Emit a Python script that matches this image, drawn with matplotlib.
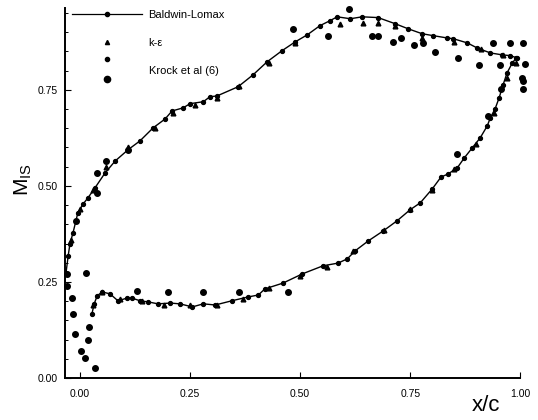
import matplotlib
matplotlib.use("Agg")
import matplotlib.pyplot as plt
from matplotlib.lines import Line2D
from matplotlib.legend_handler import HandlerBase
from matplotlib.ticker import MultipleLocator, FixedLocator

plt.rcParams['font.family'] = ['Liberation Sans', 'DejaVu Sans']

# Baldwin-Lomax (line) - suction surface
bl_up_x = [-0.032, -0.027, -0.023, -0.016, -0.005, 0.007, 0.018, 0.034, 0.057, 0.080,
           0.109, 0.136, 0.166, 0.193, 0.209, 0.234, 0.250, 0.280, 0.295, 0.311,
           0.359, 0.393, 0.425, 0.459, 0.489, 0.516, 0.545, 0.568, 0.584, 0.614,
           0.641, 0.677, 0.716, 0.745, 0.777, 0.802, 0.834, 0.848, 0.880, 0.902,
           0.932, 0.959, 0.977, 0.993]
bl_up_y = [0.273, 0.318, 0.349, 0.378, 0.430, 0.453, 0.469, 0.495, 0.534, 0.565,
           0.594, 0.617, 0.651, 0.674, 0.695, 0.703, 0.714, 0.719, 0.732, 0.734,
           0.758, 0.789, 0.823, 0.852, 0.875, 0.893, 0.917, 0.930, 0.940, 0.935,
           0.940, 0.938, 0.922, 0.909, 0.896, 0.891, 0.885, 0.883, 0.872, 0.859,
           0.846, 0.841, 0.839, 0.833]
# Baldwin-Lomax - pressure surface
bl_lo_x = [0.027, 0.032, 0.039, 0.050, 0.068, 0.086, 0.107, 0.118, 0.136, 0.155,
           0.177, 0.205, 0.227, 0.255, 0.280, 0.307, 0.345, 0.382, 0.405, 0.420,
           0.461, 0.505, 0.552, 0.586, 0.607, 0.625, 0.655, 0.689, 0.720, 0.750,
           0.773, 0.800, 0.820, 0.836, 0.857, 0.873, 0.891, 0.909, 0.925, 0.932,
           0.943, 0.952, 0.961, 0.970, 0.982, 0.991]
bl_lo_y = [0.167, 0.193, 0.214, 0.224, 0.219, 0.201, 0.208, 0.208, 0.201, 0.198,
           0.193, 0.195, 0.193, 0.185, 0.193, 0.190, 0.201, 0.211, 0.216, 0.232,
           0.247, 0.271, 0.292, 0.299, 0.310, 0.331, 0.357, 0.383, 0.409, 0.438,
           0.456, 0.492, 0.523, 0.531, 0.547, 0.573, 0.599, 0.625, 0.656, 0.677,
           0.701, 0.729, 0.763, 0.794, 0.820, 0.833]

# k-epsilon
ke_x = [-0.020, 0.000, 0.030, 0.060, 0.110, 0.170, 0.210, 0.260, 0.310, 0.360,
        0.430, 0.489, 0.591, 0.643, 0.677, 0.716, 0.777, 0.850, 0.910, 0.960, 0.990,
        0.030, 0.050, 0.090, 0.140, 0.190, 0.250, 0.310, 0.370, 0.430, 0.500,
        0.560, 0.620, 0.690, 0.750, 0.800, 0.850, 0.900, 0.940, 0.970]
ke_y = [0.360, 0.440, 0.490, 0.550, 0.600, 0.650, 0.690, 0.710, 0.730, 0.760,
        0.820, 0.872, 0.922, 0.924, 0.924, 0.917, 0.885, 0.875, 0.855, 0.840, 0.820,
        0.190, 0.225, 0.205, 0.200, 0.190, 0.190, 0.190, 0.205, 0.235, 0.265,
        0.290, 0.330, 0.385, 0.440, 0.490, 0.545, 0.610, 0.690, 0.780]

# Krock et al (6) - experiment
ex_x = [-0.030, -0.030, -0.018, -0.016, -0.011, 0.002, 0.011, 0.018, 0.020, 0.034,
        0.014, 0.130, 0.200, 0.280, 0.361, 0.473, 0.857, 0.927, 0.957,
        -0.009, 0.039, 0.039, 0.059, 0.109, 0.484, 0.564, 0.611, 0.664, 0.677,
        0.711, 0.730, 0.759, 0.780, 0.807, 0.859, 0.907, 0.939, 0.955, 0.977,
        1.007, 1.011, 1.005, 1.007, 1.007]
ex_y = [0.271, 0.240, 0.208, 0.167, 0.115, 0.070, 0.052, 0.099, 0.133, 0.026,
        0.273, 0.227, 0.224, 0.224, 0.224, 0.224, 0.583, 0.682, 0.753,
        0.409, 0.482, 0.534, 0.565, 0.594, 0.909, 0.891, 0.961, 0.891, 0.891,
        0.875, 0.885, 0.867, 0.872, 0.849, 0.833, 0.815, 0.872, 0.815, 0.872,
        0.872, 0.818, 0.781, 0.773, 0.753]

x_ticks = [0.0, 0.25, 0.5, 0.75, 1.0]
y_ticks = [0.0, 0.25, 0.5, 0.75]


class TwoDots(HandlerBase):
    def create_artists(self, legend, orig_handle, xdescent, ydescent,
                       width, height, fontsize, trans):
        cx = width / 2 - xdescent
        cy = height / 2 - ydescent
        top = Line2D([cx], [cy + 1.0 * fontsize], linestyle='none', marker='o',
                     markersize=3, color='k', transform=trans)
        bot = Line2D([cx], [cy - 0.8 * fontsize], linestyle='none', marker='o',
                     markersize=4.5, color='k', transform=trans)
        return [top, bot]


fig = plt.figure(figsize=(5.38, 4.2), dpi=100)
ax = fig.add_axes([0.121, 0.1, 0.846, 0.881])

ax.plot(bl_up_x, bl_up_y, '-', color='k', lw=1.0, marker='o', ms=2.8)
ax.plot(bl_lo_x, bl_lo_y, '-', color='k', lw=1.0, marker='o', ms=2.8)
ax.plot(ke_x, ke_y, linestyle='none', marker='^', ms=3.4, color='k', clip_on=False)
ax.plot(ex_x, ex_y, linestyle='none', marker='o', ms=4, color='k', clip_on=False)

ax.set_xlim(-0.034, 1.0)
ax.set_ylim(0.0, 0.963)
for s in ['top', 'right']:
    ax.spines[s].set_visible(False)
for s in ['left', 'bottom']:
    ax.spines[s].set_linewidth(1.4)

ax.xaxis.set_major_locator(FixedLocator(x_ticks))
ax.yaxis.set_major_locator(FixedLocator(y_ticks))
ax.yaxis.set_minor_locator(MultipleLocator(0.05))
ax.set_xticklabels([f"{v:.2f}" for v in x_ticks])
ax.set_yticklabels([f"{v:.2f}" for v in y_ticks])
ax.tick_params(axis='x', direction='in', length=4, width=0.8, labelsize=7.5, pad=8)
ax.tick_params(axis='y', direction='in', length=4, width=0.8, labelsize=7.5, pad=5)
ax.tick_params(axis='y', which='minor', direction='in', length=2, width=0.7)

ax.text(-0.092, 0.535, r"M$_\mathregular{IS}$", transform=ax.transAxes, rotation=90,
        fontsize=15, ha='center', va='center')
ax.text(0.925, -0.075, "x/c", transform=ax.transAxes, fontsize=16,
        ha='center', va='center')

h1 = Line2D([], [], color='k', lw=0.9, marker='o', ms=3)
h2 = Line2D([], [], linestyle='none', marker='^', ms=3, color='k')
h3 = Line2D([], [], linestyle='none', marker='o', ms=4, color='k')
ax.legend([h1, h2, h3], ["Baldwin-Lomax", "k-ε", "Krock et al (6)"],
          handler_map={h3: TwoDots()}, loc='upper left',
          bbox_to_anchor=(0.015, 0.995), frameon=False, fontsize=8,
          handlelength=6.3, handletextpad=0.6, labelspacing=1.65,
          borderpad=0, borderaxespad=0)

fig.savefig("out.png", dpi=100)
